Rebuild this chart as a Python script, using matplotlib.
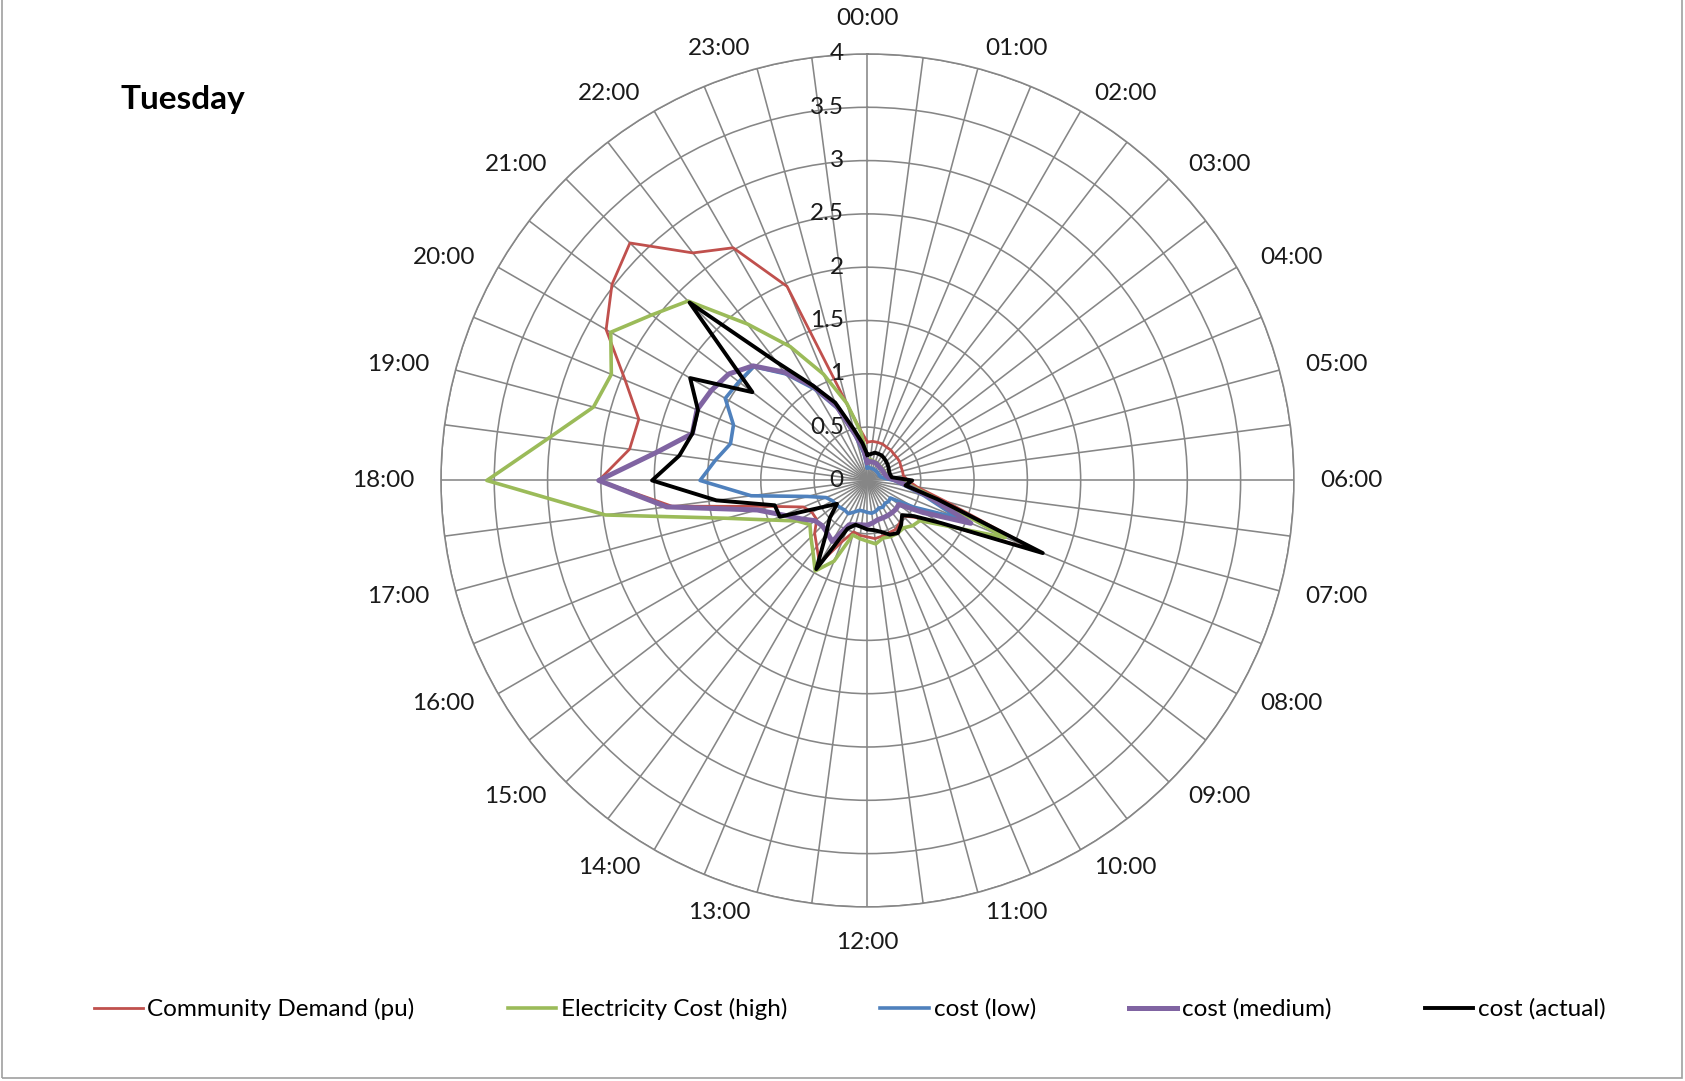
import numpy as np
import matplotlib
matplotlib.use('Agg')
import matplotlib.pyplot as plt
from matplotlib.patches import Rectangle

plt.rcParams['font.family'] = 'Lato'

# half-hourly slots, 00:00 .. 23:30, only the full hours get a label
hours = ['%02d:00' % h for h in range(24)]

demand = [0.36, 0.37, 0.37, 0.37, 0.36, 0.36, 0.35, 0.35, 0.35, 0.34, 0.34, 0.34,
          0.38, 0.47, 0.76, 1.72, 0.82, 0.57, 0.47, 0.50, 0.53, 0.53, 0.54, 0.55,
          0.53, 0.52, 0.50, 0.62, 0.90, 0.78, 0.70, 0.60, 0.60, 0.65, 0.94, 1.85,
          2.52, 2.25, 2.22, 2.46, 2.83, 3.02, 3.15, 2.69, 2.52, 1.97, 0.74, 0.47]
cost_high = [0.20, 0.20, 0.19, 0.19, 0.19, 0.18, 0.18, 0.18, 0.18, 0.18, 0.19, 0.22,
             0.30, 0.42, 0.67, 1.40, 0.85, 0.62, 0.60, 0.56, 0.57, 0.57, 0.56, 0.60,
             0.57, 0.55, 0.53, 0.82, 0.98, 0.84, 0.75, 0.68, 0.76, 0.97, 1.37, 2.48,
             3.57, 3.02, 2.66, 2.60, 2.78, 2.55, 2.38, 1.85, 1.45, 1.08, 0.75, 0.45]
cost_low = [0.12, 0.12, 0.12, 0.12, 0.12, 0.12, 0.12, 0.12, 0.12, 0.12, 0.13, 0.16,
            0.25, 0.35, 0.55, 0.92, 0.50, 0.27, 0.28, 0.27, 0.29, 0.28, 0.30, 0.31,
            0.30, 0.29, 0.29, 0.32, 0.36, 0.35, 0.36, 0.37, 0.38, 0.42, 0.58, 1.10,
            1.57, 1.44, 1.33, 1.36, 1.54, 1.52, 1.51, 1.26, 0.99, 0.73, 0.43, 0.26]
cost_medium = [0.17, 0.18, 0.18, 0.18, 0.18, 0.17, 0.17, 0.17, 0.17, 0.17, 0.18, 0.20,
               0.27, 0.38, 0.60, 1.05, 0.60, 0.37, 0.38, 0.38, 0.38, 0.38, 0.38, 0.40,
               0.42, 0.42, 0.43, 0.45, 0.66, 0.62, 0.60, 0.62, 0.72, 0.85, 1.07, 1.90,
               2.52, 2.00, 1.70, 1.73, 1.69, 1.64, 1.52, 1.28, 1.02, 0.75, 0.45, 0.30]
cost_actual = [0.24, 0.25, 0.27, 0.27, 0.27, 0.26, 0.25, 0.24, 0.23, 0.22, 0.22, 0.23,
               0.42, 0.36, 0.68, 1.78, 0.80, 0.55, 0.46, 0.52, 0.57, 0.55, 0.50, 0.47,
               0.46, 0.44, 0.43, 0.49, 0.96, 0.64, 0.50, 0.36, 0.51, 0.89, 0.90, 1.43,
               2.02, 1.78, 1.70, 1.72, 1.92, 1.36, 2.36, 1.40, 1.03, 0.79, 0.50, 0.35]

series = [
    ('Community Demand (pu)', demand, '#C0504D', 2.0),
    ('Electricity Cost (high)', cost_high, '#9BBB59', 2.6),
    ('cost (low)', cost_low, '#4F81BD', 2.6),
    ('cost (medium)', cost_medium, '#8064A2', 3.6),
    ('cost (actual)', cost_actual, '#000000', 2.8),
]

n = len(demand)
theta = np.arange(n) * 2 * np.pi / n
theta_closed = np.append(theta, 2 * np.pi)

fig = plt.figure(figsize=(16.85, 10.81), dpi=100)
ax = fig.add_axes([0.2617, 0.1610, 0.5062, 0.7891], projection='polar')
ax.set_theta_zero_location('N')
ax.set_theta_direction(-1)
ax.set_ylim(0, 4)
ax.set_xticks(theta)
ax.set_xticklabels([])
ax.set_yticks(np.arange(0.5, 4.01, 0.5))
ax.set_yticklabels([])
ax.tick_params(length=0)
ax.grid(True, color='#868686', lw=1.15)
ax.spines['polar'].set_color('#868686')
ax.spines['polar'].set_linewidth(1.15)

for label, vals, color, lw in series:
    ax.plot(theta_closed, np.append(vals, vals[0]), color=color, lw=lw, label=label)

# value axis labels along the midnight spoke
for v in np.arange(0, 4.01, 0.5):
    ax.annotate('%g' % v, xy=(0, v), xytext=(-17, 0), textcoords='offset points',
                ha='right', va='center', fontsize=17.5, color='#1a1a1a',
                annotation_clip=False)

# hour labels around the outside
for h, lab in enumerate(hours):
    ang = np.deg2rad(15 * h)
    s, c = np.sin(ang), np.cos(ang)
    if abs(s) < 1e-6:
        off, ha = (0, 25.5 * c), 'center'
    else:
        off, ha = (19.3 * s, 14.7 * c), ('left' if s > 0 else 'right')
    ax.annotate(lab, xy=(ang, 4), xytext=off, textcoords='offset points',
                ha=ha, va='center', fontsize=17.5, color='#1a1a1a',
                annotation_clip=False)

fig.text(120 / 1685, 1 - 99 / 1081, 'Tuesday', fontsize=24, fontweight='bold',
         ha='left', va='center')

fig.legend(loc='center left', bbox_to_anchor=(94 / 1685, 1 - 1009 / 1081), ncol=5,
           frameon=False, fontsize=17.5, handlelength=2.0, handletextpad=0.2,
           columnspacing=3.82, borderaxespad=0, borderpad=0)

fig.patches.append(Rectangle((2 / 1685, 3 / 1081), 1680 / 1685, 1.5,
                             transform=fig.transFigure, fill=False,
                             edgecolor='#a0a0a0', lw=1.2))

fig.savefig('out.png', dpi=100)
